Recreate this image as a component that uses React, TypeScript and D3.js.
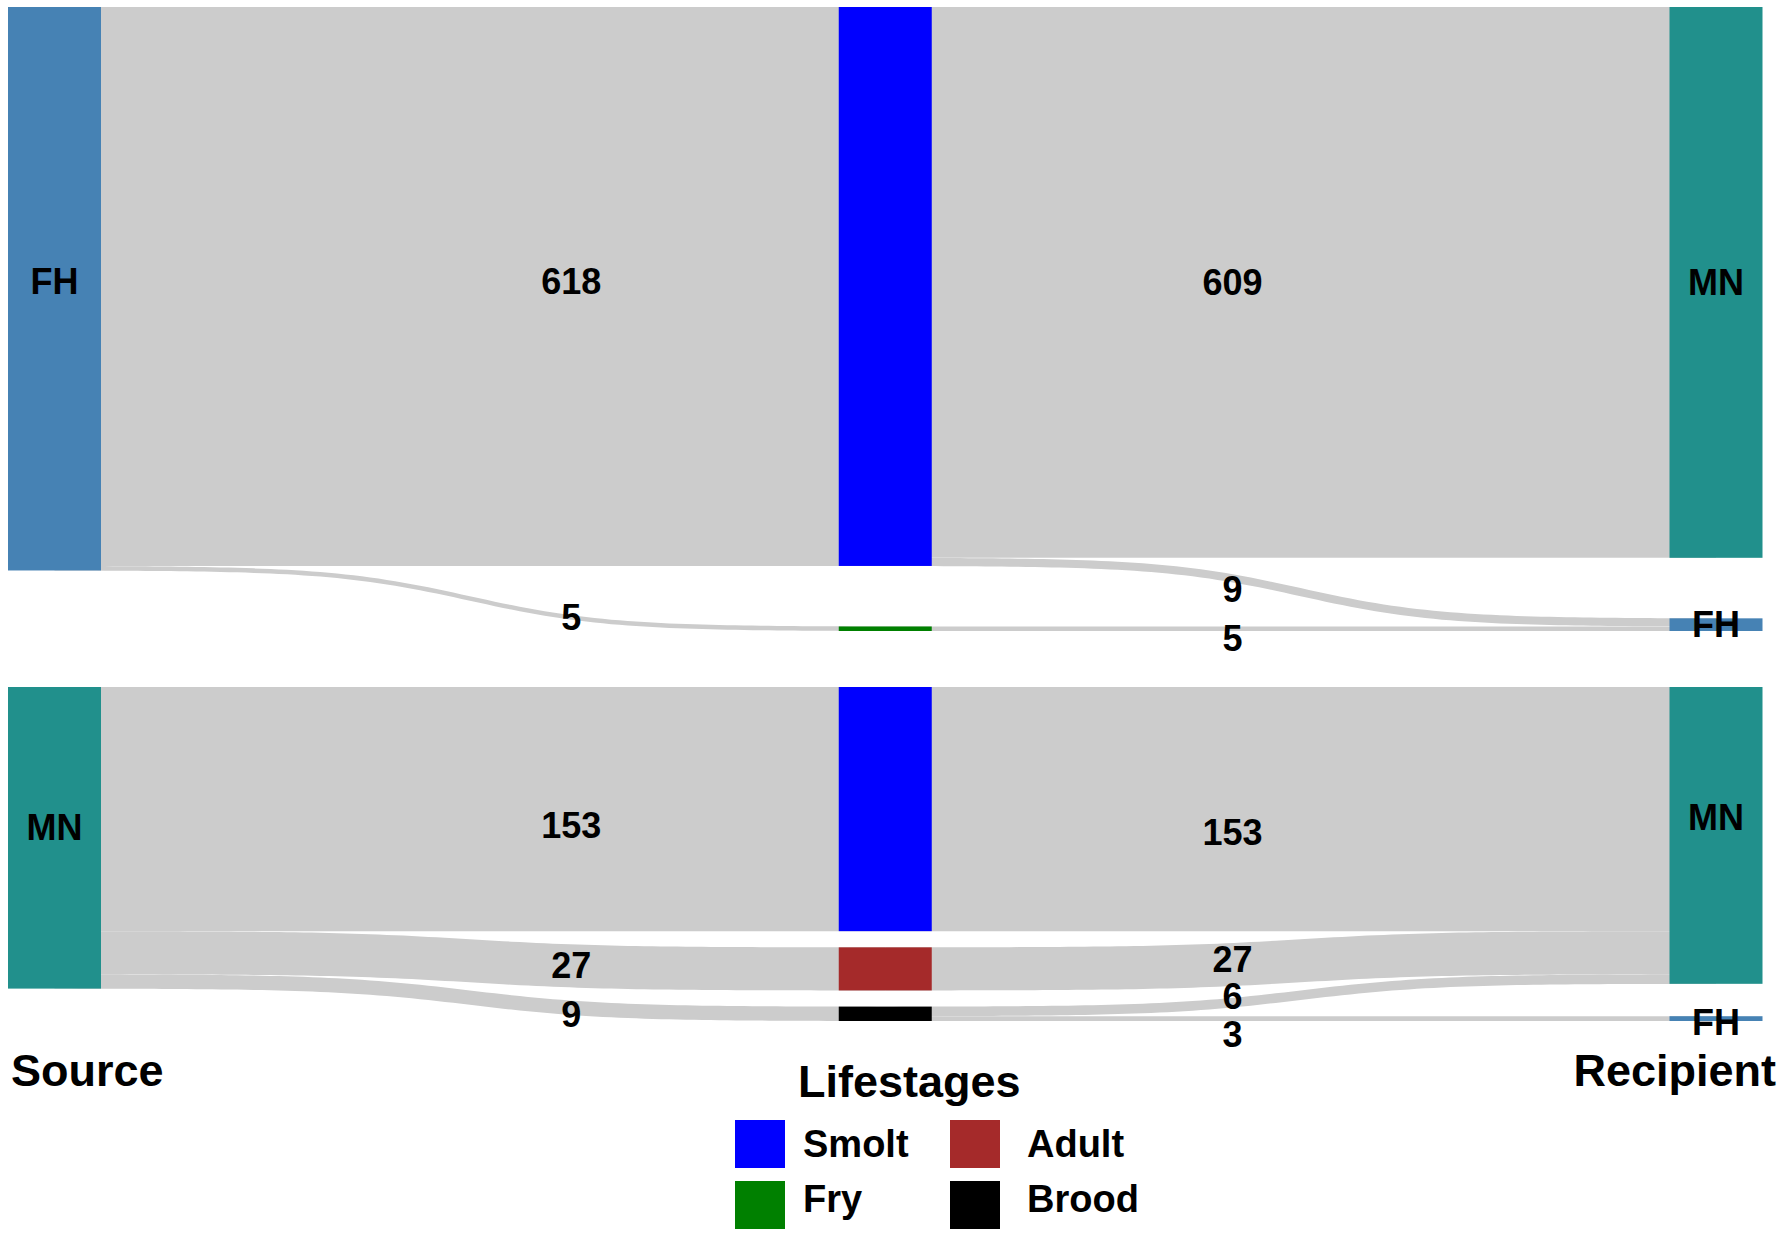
import { useMemo } from 'react'
import * as d3 from 'd3'

// alluvia: one entry per source -> lifestage -> recipient path
const alluviumSource = ['FH', 'FH', 'FH', 'MN', 'MN', 'MN', 'MN']
const alluviumStage = ['Smolt', 'Smolt', 'Fry', 'Smolt', 'Adult', 'Brood', 'Brood']
const alluviumRecipient = ['MN', 'FH', 'FH', 'MN', 'MN', 'MN', 'FH']
const alluviumCount = [609, 9, 5, 153, 27, 6, 3]

const panels = ['FH', 'MN']
const lifestages = ['Smolt', 'Fry', 'Adult', 'Brood']
const recipients = ['MN', 'FH']
const axisNames = ['Source', 'Lifestages', 'Recipient']

const stageColors = ['#0000FF', '#008000', '#A52A2A', '#000000']
const siteColors: Record<string, string> = { FH: '#4682B4', MN: '#21908C' }

// layout
const W = 1783
const H = 1241
const panelTop = [7, 687]
const panelSpan = [624, 334]
const fillFrac = 0.903
const nodeW = 93
const FONT = 'Liberation Sans, Arial, Helvetica, sans-serif'
const flowGrey = '#CCCCCC'
const labelT = [0.622, 0.418]
const steep = 6

// small text nudges (px) where the original labels sit off-centre
const flowLabelNudge: Record<string, number> = {
  'FH-0-FH-Smolt': -5,
  'FH-1-Smolt-FH': 11,
  'FH-1-Fry-FH': 10,
  'MN-0-MN-Smolt': 16,
  'MN-1-Smolt-MN': 23,
  'MN-0-MN-Brood': 7,
  'MN-1-Adult-MN': -5,
  'MN-1-Brood-MN': -6,
  'MN-1-Brood-FH': 16,
}
const nodeLabelNudge: Record<string, number> = {
  'FH-0-FH': -7,
  'MN-0-MN': -10,
  'MN-2-MN': -18,
  'MN-2-FH': 4,
}

interface Node {
  key: string
  name: string
  axis: number
  y0: number
  y1: number
  fill: string
  inOff: number
  outOff: number
}
interface Flow {
  key: string
  side: number
  value: number
  from: Node
  to: Node
  sy0: number
  sy1: number
  ty0: number
  ty1: number
}

const L = (v: number) => 1 / (1 + Math.exp(-v))
const sig = (t: number) => (L((2 * t - 1) * steep) - L(-steep)) / (L(steep) - L(-steep))

export default function App() {
  const x = d3.scalePoint<string>().domain(axisNames).range([54.5, 1716])

  const layout = useMemo(() => {
    const nodes: Node[] = []
    const flows: Flow[] = []
    panels.forEach((p, pi) => {
      const idx = alluviumCount.map((_, i) => i).filter((i) => alluviumSource[i] === p)
      const total = d3.sum(idx, (i) => alluviumCount[i])
      const dataH = fillFrac * panelSpan[pi]
      const y = d3.scaleLinear().domain([0, total]).range([0, dataH])
      const axisValues: [string, string, number][][] = [
        [[p, siteColors[p], total]],
        lifestages
          .map((s, si) => [s, stageColors[si], d3.sum(idx.filter((i) => alluviumStage[i] === s), (i) => alluviumCount[i])] as [string, string, number])
          .filter((d) => d[2] > 0),
        recipients
          .map((r) => [r, siteColors[r], d3.sum(idx.filter((i) => alluviumRecipient[i] === r), (i) => alluviumCount[i])] as [string, string, number])
          .filter((d) => d[2] > 0),
      ]
      const nodeMap: Record<string, Node> = {}
      axisValues.forEach((vals, ai) => {
        const gap = vals.length > 1 ? (panelSpan[pi] - dataH) / (vals.length - 1) : 0
        let cur = panelTop[pi]
        vals.forEach(([name, fill, v]) => {
          const n: Node = { key: `${p}-${ai}-${name}`, name, axis: ai, y0: cur, y1: cur + y(v), fill, inOff: 0, outOff: 0 }
          n.inOff = n.y0
          n.outOff = n.y0
          nodeMap[`${ai}-${name}`] = n
          nodes.push(n)
          cur += y(v) + gap
        })
      })
      // left segment: source -> stage, ordered by stage
      lifestages.forEach((s) => {
        const v = d3.sum(idx.filter((i) => alluviumStage[i] === s), (i) => alluviumCount[i])
        if (!v) return
        const from = nodeMap[`0-${p}`]
        const to = nodeMap[`1-${s}`]
        const h = y(v)
        flows.push({ key: `${p}-0-${p}-${s}`, side: 0, value: v, from, to, sy0: from.outOff, sy1: from.outOff + h, ty0: to.inOff, ty1: to.inOff + h })
        from.outOff += h
        to.inOff += h
      })
      // right segment: stage -> recipient, ordered by stage then recipient
      lifestages.forEach((s) => {
        recipients.forEach((r) => {
          const v = d3.sum(idx.filter((i) => alluviumStage[i] === s && alluviumRecipient[i] === r), (i) => alluviumCount[i])
          if (!v) return
          const from = nodeMap[`1-${s}`]
          const to = nodeMap[`2-${r}`]
          const h = y(v)
          flows.push({ key: `${p}-1-${s}-${r}`, side: 1, value: v, from, to, sy0: from.outOff, sy1: from.outOff + h, ty0: to.inOff, ty1: to.inOff + h })
          from.outOff += h
          to.inOff += h
        })
      })
    })
    return { nodes, flows }
  }, [])

  const ts = d3.range(0, 1.0001, 0.01)
  const flowPath = (f: Flow) => {
    const x0 = x(axisNames[f.from.axis]) as number
    const x1 = x(axisNames[f.to.axis]) as number
    const area = d3
      .area<number>()
      .x((t) => x0 + t * (x1 - x0))
      .y0((t) => f.sy0 + (f.ty0 - f.sy0) * sig(t))
      .y1((t) => f.sy1 + (f.ty1 - f.sy1) * sig(t))
    return area(ts) ?? ''
  }
  const flowLabelPos = (f: Flow) => {
    const x0 = x(axisNames[f.from.axis]) as number
    const x1 = x(axisNames[f.to.axis]) as number
    const t = labelT[f.side]
    const s = sig(t)
    const yTop = f.sy0 + (f.ty0 - f.sy0) * s
    const yBot = f.sy1 + (f.ty1 - f.sy1) * s
    return { lx: x0 + t * (x1 - x0), ly: (yTop + yBot) / 2 + (flowLabelNudge[f.key] ?? 0) }
  }

  return (
    <svg
      width={W}
      height={H}
      style={{ position: 'absolute', left: 0, top: 0, background: '#fff' }}
      fontFamily={FONT}
      fontWeight="bold"
    >
      <rect width={W} height={H} fill="#fff" />
      <g>
        {layout.flows.map((f) => (
          <path key={f.key} d={flowPath(f)} fill={flowGrey} />
        ))}
      </g>
      <g>
        {layout.nodes.map((n) => (
          <rect
            key={n.key}
            x={(x(axisNames[n.axis]) as number) - nodeW / 2}
            y={n.y0}
            width={nodeW}
            height={Math.max(n.y1 - n.y0, 1)}
            fill={n.fill}
          />
        ))}
      </g>
      <g fontSize={36} textAnchor="middle">
        {layout.flows.map((f) => {
          const { lx, ly } = flowLabelPos(f)
          return (
            <text key={f.key} x={lx} y={ly} dominantBaseline="central" fill="#000">
              {f.value}
            </text>
          )
        })}
      </g>
      <g fontSize={36} textAnchor="middle">
        {layout.nodes
          .filter((n) => n.axis !== 1)
          .map((n) => (
            <text
              key={n.key}
              x={x(axisNames[n.axis]) as number}
              y={(n.y0 + n.y1) / 2 + (nodeLabelNudge[n.key] ?? 0)}
              dominantBaseline="central"
              fill="#000"
            >
              {n.name}
            </text>
          ))}
      </g>
      {/* axis titles */}
      <g fontSize={45} fill="#000">
        <text x={11} y={1086}>
          {axisNames[0]}
        </text>
        <text x={1776} y={1086} textAnchor="end">
          {axisNames[2]}
        </text>
        <text x={798} y={1097}>
          {axisNames[1]}
        </text>
      </g>
      {/* legend */}
      <g fontSize={38} fill="#000">
        {lifestages.map((s, i) => {
          const col = Math.floor(i / 2)
          const row = i % 2
          const bx = 735 + col * 215
          const by = 1120 + row * 61
          return (
            <g key={s}>
              <rect x={bx} y={by} width={50} height={48} fill={stageColors[i]} />
              <text x={col === 0 ? 803 : 1027} y={1157 + row * 55}>
                {s}
              </text>
            </g>
          )
        })}
      </g>
    </svg>
  )
}
